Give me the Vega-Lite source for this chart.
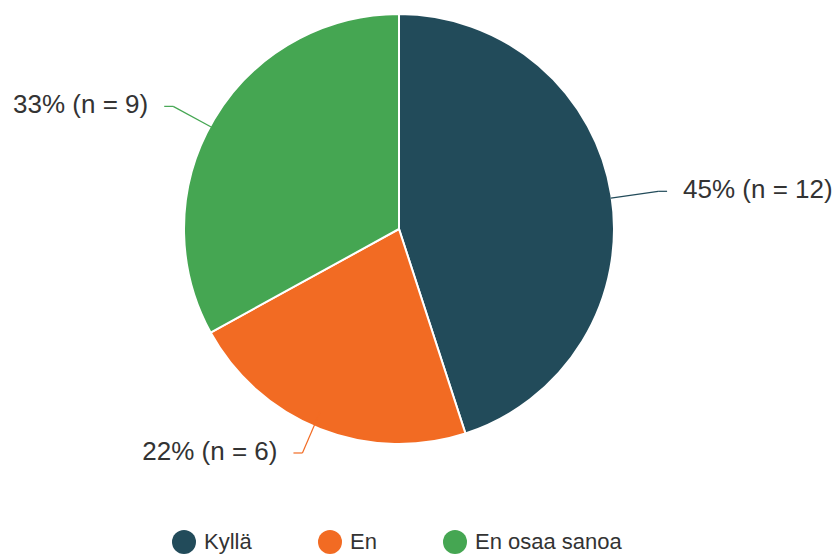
{
  "$schema": "https://vega.github.io/schema/vega-lite/v6.json",
  "width": 798,
  "height": 458,
  "autosize": {"type": "none"},
  "padding": {"left": 0, "top": 0, "right": 37, "bottom": 96},
  "background": "white",
  "config": {"view": {"stroke": null}, "font": "Liberation Sans"},
  "data": {
    "values": [
      {"category": "Kyllä", "pct": 45, "n": 12, "label": "45% (n = 12)"},
      {"category": "En", "pct": 22, "n": 6, "label": "22% (n = 6)"},
      {"category": "En osaa sanoa", "pct": 33, "n": 9, "label": "33% (n = 9)"}
    ]
  },
  "transform": [
    {"window": [{"op": "row_number", "as": "rank"}, {"op": "sum", "field": "pct", "as": "cum"}], "frame": [null, 0]},
    {"joinaggregate": [{"op": "sum", "field": "pct", "as": "total"}]},
    {"calculate": "(datum.cum - datum.pct / 2) / datum.total * 2 * PI", "as": "mid"},
    {"calculate": "sin(datum.mid) > 0 ? 1 : -1", "as": "side"},
    {"calculate": "215 * sin(datum.mid)", "as": "x0"},
    {"calculate": "215 * cos(datum.mid)", "as": "y0"},
    {"calculate": "263 * sin(datum.mid)", "as": "x1"},
    {"calculate": "263 * cos(datum.mid)", "as": "y1"},
    {"calculate": "datum.x1 + 9 * datum.side", "as": "x2"},
    {"calculate": "datum.x2 + 16 * datum.side", "as": "xt"},
    {"calculate": "datum.y1 + 1", "as": "yt"}
  ],
  "layer": [
    {
      "mark": {"type": "arc", "outerRadius": 215, "stroke": "white", "strokeWidth": 2},
      "encoding": {
        "theta": {"field": "pct", "type": "quantitative", "stack": true},
        "order": {"field": "rank", "type": "quantitative"},
        "color": {
          "field": "category",
          "type": "nominal",
          "scale": {"domain": ["Kyllä", "En", "En osaa sanoa"], "range": ["#224b5a", "#f26b23", "#45a652"]},
          "legend": {
            "title": null,
            "orient": "none",
            "direction": "horizontal",
            "legendX": 172,
            "legendY": 530,
            "symbolType": "circle",
            "symbolSize": 576,
            "symbolStrokeWidth": 0,
            "labelFontSize": 22,
            "labelColor": "#333333",
            "labelFont": "Liberation Sans",
            "labelOffset": 8,
            "columnPadding": 66,
            "padding": 0
          }
        }
      }
    },
    {
      "mark": {"type": "rule", "strokeWidth": 1.2},
      "encoding": {
        "x": {"field": "x0", "type": "quantitative", "scale": {"domain": [-399, 399]}, "axis": null},
        "y": {"field": "y0", "type": "quantitative", "scale": {"domain": [-229, 229]}, "axis": null},
        "x2": {"field": "x1"},
        "y2": {"field": "y1"},
        "color": {"field": "category", "type": "nominal"}
      }
    },
    {
      "mark": {"type": "rule", "strokeWidth": 1.2},
      "encoding": {
        "x": {"field": "x1", "type": "quantitative"},
        "y": {"field": "y1", "type": "quantitative"},
        "x2": {"field": "x2"},
        "y2": {"field": "y1"},
        "color": {"field": "category", "type": "nominal"}
      }
    },
    {
      "transform": [{"filter": "datum.side > 0"}],
      "mark": {"type": "text", "align": "left", "baseline": "middle", "fontSize": 26, "font": "Liberation Sans", "color": "#333333"},
      "encoding": {
        "x": {"field": "xt", "type": "quantitative"},
        "y": {"field": "yt", "type": "quantitative"},
        "text": {"field": "label"}
      }
    },
    {
      "transform": [{"filter": "datum.side < 0"}],
      "mark": {"type": "text", "align": "right", "baseline": "middle", "fontSize": 26, "font": "Liberation Sans", "color": "#333333"},
      "encoding": {
        "x": {"field": "xt", "type": "quantitative"},
        "y": {"field": "yt", "type": "quantitative"},
        "text": {"field": "label"}
      }
    }
  ],
  "resolve": {"scale": {"x": "shared", "y": "shared"}}
}
